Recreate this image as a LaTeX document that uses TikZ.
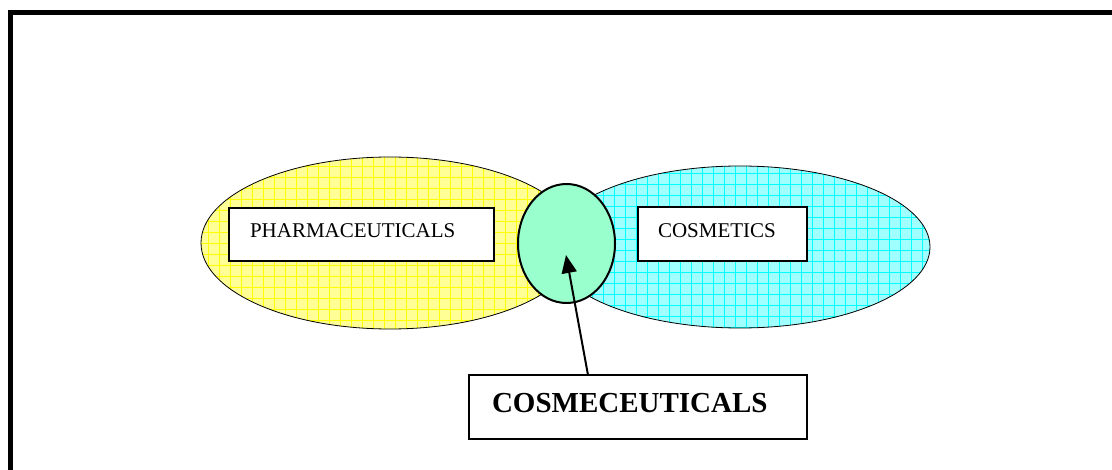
\documentclass[tikz,border=0pt]{standalone}
\usepackage{fontspec}
\setmainfont{Liberation Serif}
\usetikzlibrary{arrows.meta}
\definecolor{ybg}{RGB}{255,255,150}
\definecolor{yln}{RGB}{255,255,0}
\definecolor{cbg}{RGB}{160,255,255}
\definecolor{cln}{RGB}{0,255,255}
\definecolor{grn}{RGB}{153,255,204}
\tikzset{
  box/.style={draw=black, line width=1.5pt, fill=white, rectangle, align=left, inner ysep=0pt},
  oval/.style={draw=black, line width=0.8pt},
  hatch/.style={line width=0.8pt}
}
\begin{document}
\begin{tikzpicture}[x=1pt,y=-1pt]
\useasboundingbox (0,0) rectangle (1112,470);
\fill[white] (0,0) rectangle (1112,470);
% frame
\draw[line width=5pt] (10.5,480) -- (10.5,12.5) -- (1120,12.5);
% yellow ellipse
\fill[ybg] (390,243) ellipse [x radius=189, y radius=86];
\begin{scope}
\clip (390,243) ellipse [x radius=189, y radius=86];
\foreach \i in {0,...,36} {\draw[yln, hatch] (197+11*\i,150) -- (197+11*\i,335);}
\foreach \j in {0,...,17} {\draw[yln, hatch] (195,155+11*\j) -- (590,155+11*\j);}
\end{scope}
\draw[oval] (390,243) ellipse [x radius=189, y radius=86];
% cyan ellipse
\fill[cbg] (740,247) ellipse [x radius=190, y radius=81];
\begin{scope}
\clip (740,247) ellipse [x radius=190, y radius=81];
\foreach \i in {0,...,36} {\draw[cln, hatch] (548+11*\i,160) -- (548+11*\i,335);}
\foreach \j in {0,...,17} {\draw[cln, hatch] (545,162+11*\j) -- (935,162+11*\j);}
\end{scope}
\draw[oval] (740,247) ellipse [x radius=190, y radius=81];
% green overlap
\draw[fill=grn, line width=2pt] (566.5,243.5) ellipse [x radius=48.5, y radius=59.5];
% boxes
\node[box, minimum width=265pt, minimum height=53pt, text width=223pt, inner xsep=21pt, text height=15pt, text depth=8pt, font=\fontsize{21}{25}\selectfont] (ph) at (361.5,234.5) {PHARMACEUTICALS};
\node[box, minimum width=169pt, minimum height=54pt, text width=129pt, inner xsep=20pt, text height=15pt, text depth=7pt, font=\fontsize{21}{25}\selectfont] (co) at (722.5,234) {COSMETICS};
\node[box, minimum width=338pt, minimum height=64pt, text width=292pt, inner xsep=23pt, text height=20pt, text depth=8pt, font=\fontsize{29}{34}\selectfont\bfseries] (cb) at (638,407) {COSMECEUTICALS};
% arrow
\coordinate (tail) at (588,375);
\coordinate (tip) at (566,255);
\draw[line width=2pt, -{Triangle[length=18pt, width=15pt]}] (tail) -- (tip);
\end{tikzpicture}
\end{document}
